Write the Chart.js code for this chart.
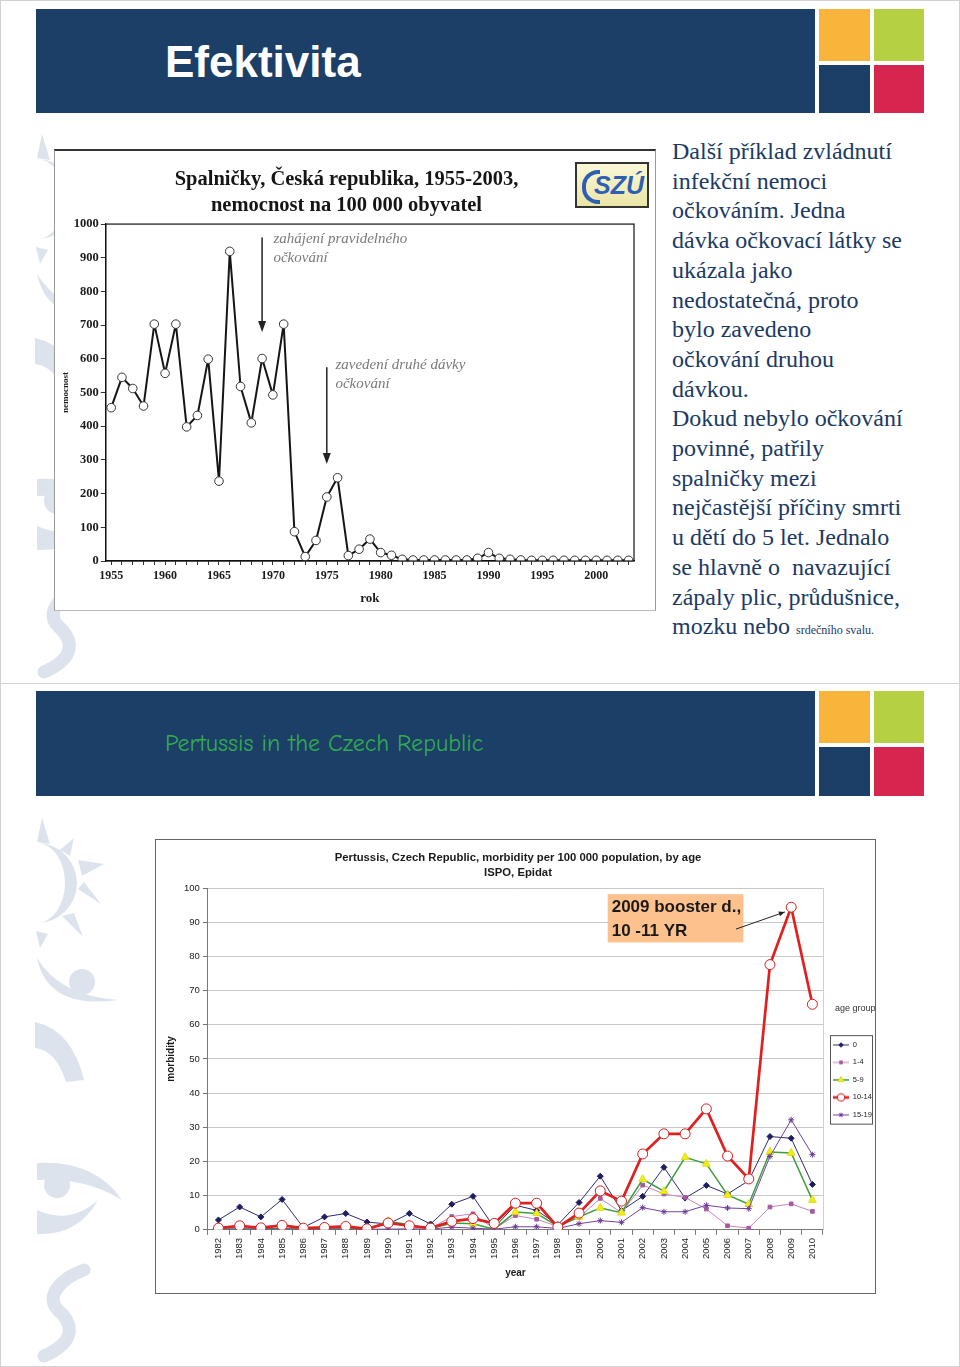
<!DOCTYPE html>
<html lang="cs">
<head>
<meta charset="utf-8">
<title>Efektivita</title>
<script src="https://cdn.jsdelivr.net/npm/chart.js@4.4.1/dist/chart.umd.min.js"></script>
<style>
  html, body { margin: 0; padding: 0; }
  body { width: 960px; height: 1367px; position: relative; background: #fff; overflow: hidden;
         font-family: "Liberation Sans", Arial, sans-serif; }
  .slide { position: absolute; left: 0; width: 958px; border: 1px solid #d2d2d2; background: #fff; }
  #s1 { top: 0; height: 682px; }
  #s2 { top: 683px; height: 682px; }
  #marks { position: absolute; left: 0; top: 0; }
  .band { position: absolute; left: 36px; width: 779px; background: #1b3f67; }
  .sq { position: absolute; }
  .orange { background: #f9b43c; }
  .green { background: #b6d043; }
  .blue { background: #1b3f67; }
  .red { background: #d6254f; }
  .h1 { position: absolute; left: 165px; color: #fff; font: bold 44px "Liberation Sans", Arial, sans-serif; line-height: 50px; }
  .h2 { position: absolute; left: 165px; color: #33aa50; font: 24px "Comic Sans MS", "Comic Neue", "Lato", sans-serif; line-height: 28px; }
  #measlesBox { position: absolute; left: 54px; top: 149px; width: 600px; height: 459px; background: #fff;
                border-top: 2px solid #333; border-left: 1px solid #999; border-right: 1px solid #999; border-bottom: 1px solid #bbb; }
  #logo { position: absolute; left: 575px; top: 162px; width: 70px; height: 42px; border: 2px solid #333;
          background: linear-gradient(#fbf8d8, #ebe5a6); overflow: hidden; }
  #logo span { position: absolute; right: 3px; top: 7px; font: italic bold 25px "Liberation Sans", Arial, sans-serif; color: #2f5fb3; }
  #logo i { position: absolute; left: 5px; top: 6px; width: 14px; height: 26px; border: 4px solid #2f5fb3; border-right: none;
            border-radius: 16px 0 0 16px; }
  #story { position: absolute; left: 672px; top: 137px; color: #1b3a64; font: 24px "Liberation Serif", "Times New Roman", serif;
           line-height: 29.7px; white-space: pre; }
  #story small { font-size: 12px; }
  #pertBox { position: absolute; left: 155px; top: 839px; width: 719px; height: 453px; background: #fff; border: 1px solid #666; }
  canvas { display: block; }
</style>
</head>
<body>
<div class="slide" id="s1"></div>
<div class="slide" id="s2"></div>

<svg id="marks" width="960" height="1367">
  <defs>
    <clipPath id="edge"><rect x="35" y="0" width="120" height="1367"/></clipPath>
    <g id="logoMark" fill="#dde3ed" stroke="none">
      <path d="M37 159 A40 40 0 0 1 37 239 A28 40 0 0 0 37 159 Z"/>
      <polygon points="42,134 50,160 37,158"/>
      <polygon points="74,154 60,166 70,172"/>
      <polygon points="104,180 78,176 82,192"/>
      <polygon points="101,220 78,205 84,198"/>
      <polygon points="83,253 62,232 74,229"/>
      <polygon points="40,264 36,247 48,250"/>
      <circle cx="82" cy="298" r="13"/>
      <path d="M37 274 Q48 326 118 316 Q60 312 37 274 Z"/>
      <path d="M35 338 Q72 346 84 396 L66 398 Q56 366 35 364 Z"/>
      <path d="M37 479 Q95 476 122 516 Q85 493 37 496 Z"/>
      <circle cx="57" cy="501" r="13"/>
      <path d="M37 526 Q70 541 98 516 Q78 552 37 550 Z"/>
      <path d="M84 586 C62 594 44 612 58 626 C74 640 76 658 44 672" fill="none" stroke="#dde3ed" stroke-width="13" stroke-linecap="round"/>
    </g>
  </defs>
  <g clip-path="url(#edge)">
    <use href="#logoMark" x="0" y="0"/>
    <use href="#logoMark" x="0" y="684"/>
  </g>
</svg>

<!-- slide 1 header -->
<div class="band" style="top:9px;height:104px"></div>
<div class="sq orange" style="left:819px;top:9px;width:51px;height:52px"></div>
<div class="sq green" style="left:874px;top:9px;width:50px;height:52px"></div>
<div class="sq blue" style="left:819px;top:65px;width:51px;height:48px"></div>
<div class="sq red" style="left:874px;top:65px;width:50px;height:48px"></div>
<div class="h1" style="top:37px">Efektivita</div>

<div id="measlesBox"><canvas id="measles" width="600" height="459"></canvas></div>
<div id="logo"><i></i><span>SZÚ</span></div>

<div id="story">Další příklad zvládnutí
infekční nemoci
očkováním. Jedna
dávka očkovací látky se
ukázala jako
nedostatečná, proto
bylo zavedeno
očkování druhou
dávkou.
Dokud nebylo očkování
povinné, patřily
spalničky mezi
nejčastější příčiny smrti
u dětí do 5 let. Jednalo
se hlavně o  navazující
zápaly plic, průdušnice,
mozku nebo <small>srdečního svalu.</small></div>

<!-- slide 2 header -->
<div class="band" style="top:691px;height:105px"></div>
<div class="sq orange" style="left:819px;top:691px;width:51px;height:52px"></div>
<div class="sq green" style="left:874px;top:691px;width:50px;height:52px"></div>
<div class="sq blue" style="left:819px;top:747px;width:51px;height:49px"></div>
<div class="sq red" style="left:874px;top:747px;width:50px;height:49px"></div>
<div class="h2" style="top:729px">Pertussis in the Czech Republic</div>

<div id="pertBox"><canvas id="pertussis" width="719" height="453"></canvas></div>

<script>
// measles, Czech Republic, per 100 000
const measlesYears = [1955, 1956, 1957, 1958, 1959, 1960, 1961, 1962, 1963, 1964,
  1965, 1966, 1967, 1968, 1969, 1970, 1971, 1972, 1973, 1974,
  1975, 1976, 1977, 1978, 1979, 1980, 1981, 1982, 1983, 1984,
  1985, 1986, 1987, 1988, 1989, 1990, 1991, 1992, 1993, 1994,
  1995, 1996, 1997, 1998, 1999, 2000, 2001, 2002, 2003];
const measlesRate = [455, 545, 512, 460, 703, 557, 703, 398, 432, 599,
  237, 919, 518, 410, 601, 493, 703, 87, 13, 61,
  190, 247, 16, 35, 65, 25, 17, 5, 3, 3,
  3, 3, 3, 3, 8, 25, 8, 5, 3, 2,
  2, 2, 2, 2, 2, 2, 2, 2, 2];

// pertussis morbidity per 100 000 by age group
const pertYears = ['1982', '1983', '1984', '1985', '1986', '1987', '1988', '1989', '1990', '1991',
  '1992', '1993', '1994', '1995', '1996', '1997', '1998', '1999', '2000', '2001',
  '2002', '2003', '2004', '2005', '2006', '2007', '2008', '2009', '2010'];
const ageGroups = ['0', '1-4', '5-9', '10-14', '15-19'];
const age0 = [2.9, 6.7, 3.8, 8.9, 0.7, 3.8, 4.8, 2.3, 1.7, 4.8,
  1.7, 7.5, 9.8, 0.7, 7.2, 5.7, 1.5, 8.0, 15.7, 5.6,
  9.8, 18.3, 9.3, 13.0, 10.5, 14.4, 27.3, 26.8, 13.3];
const age1to4 = [0.4, 0.8, 0.9, 1.5, 0.3, 0.5, 0.6, 0.2, 2.0, 1.0,
  0.4, 3.9, 4.7, 0.3, 4.2, 3.1, 1.0, 3.6, 9.2, 5.0,
  13.1, 10.5, 9.5, 6.1, 1.2, 0.5, 6.7, 7.6, 5.4];
const age5to9 = [0.2, 0.2, 0.3, 0.4, 0.1, 0.3, 0.1, 0.2, 2.5, 1.5,
  0.3, 2.0, 1.8, 0.2, 5.2, 4.8, 1.0, 3.8, 6.4, 5.0,
  14.8, 11.3, 21.2, 19.3, 10.2, 7.5, 22.8, 22.5, 8.7];
const age10to14 = [0.5, 1.2, 0.6, 1.3, 0.5, 0.7, 1.0, 0.3, 2.0, 1.2,
  0.5, 2.5, 3.3, 1.9, 7.8, 7.8, 0.8, 4.9, 11.4, 8.4,
  22.2, 28.1, 28.1, 35.4, 21.6, 14.9, 77.6, 94.4, 66.0];
const age15to19 = [0.2, 0.3, 0.2, 0.3, 0.2, 0.2, 0.3, 0.2, 0.2, 0.3,
  0.2, 0.8, 0.5, 0.2, 0.9, 0.9, 0.4, 1.8, 2.7, 2.2,
  6.5, 5.3, 5.3, 7.2, 6.4, 6.2, 21.5, 32.2, 22.0];

const serif = '"Liberation Serif", "Times New Roman", serif';
const sans = '"Liberation Sans", Arial, sans-serif';

// plot frame + arrows with the vaccination notes
const measlesNotes = {
  id: 'measlesNotes',
  afterDraw(chart, args, opts) {
    const { ctx, chartArea: a, scales: { x, y } } = chart;
    ctx.save();
    ctx.strokeStyle = '#111';
    ctx.lineWidth = 1.2;
    ctx.strokeRect(a.left, a.top, a.right - a.left, a.bottom - a.top);
    opts.notes.forEach(n => {
      const px = x.getPixelForValue(measlesYears.indexOf(n.year));
      const y0 = y.getPixelForValue(n.from);
      const y1 = y.getPixelForValue(n.to);
      ctx.strokeStyle = '#222';
      ctx.lineWidth = 1.5;
      ctx.beginPath();
      ctx.moveTo(px, y0);
      ctx.lineTo(px, y1 - 8);
      ctx.stroke();
      ctx.fillStyle = '#222';
      ctx.beginPath();
      ctx.moveTo(px - 4, y1 - 11);
      ctx.lineTo(px + 4, y1 - 11);
      ctx.lineTo(px, y1);
      ctx.closePath();
      ctx.fill();
      ctx.font = 'italic 15px ' + serif;
      ctx.fillStyle = '#7a7a7a';
      ctx.textBaseline = 'middle';
      const tx = x.getPixelForValue(n.textAt);
      const ty = y.getPixelForValue(n.textY);
      n.lines.forEach((t, i) => ctx.fillText(t, tx, ty + i * 19));
    });
    ctx.restore();
  }
};

new Chart(document.getElementById('measles'), {
  type: 'line',
  data: {
    labels: measlesYears,
    datasets: [{
      label: 'nemocnost',
      data: measlesRate,
      borderColor: '#151515',
      borderWidth: 2,
      borderJoinStyle: 'round',
      tension: 0,
      pointStyle: 'circle',
      pointRadius: 4.3,
      pointBackgroundColor: '#fff',
      pointBorderColor: '#333',
      pointBorderWidth: 1
    }]
  },
  options: {
    responsive: false,
    animation: false,
    devicePixelRatio: 1,
    layout: { padding: { left: 4, right: 21, bottom: 4 } },
    plugins: {
      legend: { display: false },
      tooltip: { enabled: false },
      title: {
        display: true,
        text: ['Spalničky, Česká republika, 1955-2003,', 'nemocnost na 100 000 obyvatel'],
        color: '#151515',
        font: { family: serif, size: 20.5, weight: 'bold', lineHeight: 1.27 },
        padding: { top: 16, bottom: 5 }
      },
      measlesNotes: {
        notes: [
          { year: 1969, from: 960, to: 680, textAt: 15.05, textY: 955, lines: ['zahájení pravidelného', 'očkování'] },
          { year: 1975, from: 575, to: 288, textAt: 20.8, textY: 583, lines: ['zavedení druhé dávky', 'očkování'] }
        ]
      }
    },
    scales: {
      x: {
        type: 'category',
        offset: true,
        border: { color: '#111', width: 1.2 },
        grid: { drawOnChartArea: false, offset: false, tickLength: 4, color: '#333' },
        ticks: {
          autoSkip: false, maxRotation: 0, minRotation: 0, padding: 4, color: '#1a1a1a',
          font: { family: serif, size: 12, weight: 'bold' },
          callback: (v, i) => (measlesYears[i] % 5 === 0 ? String(measlesYears[i]) : '')
        },
        title: { display: true, text: 'rok', color: '#1a1a1a', font: { family: serif, size: 13, weight: 'bold' }, padding: { top: 3, bottom: 0 } }
      },
      y: {
        min: 0, max: 1000,
        border: { color: '#111', width: 1.2 },
        grid: { drawOnChartArea: false, tickLength: 5, color: '#333' },
        ticks: { stepSize: 100, padding: 2, color: '#1a1a1a', font: { family: serif, size: 12.5, weight: 'bold' },
                 callback: v => String(v) },
        title: { display: true, text: 'nemocnost', color: '#1a1a1a', font: { family: serif, size: 9, weight: 'bold' }, padding: { top: 1, bottom: 1 } }
      }
    }
  },
  plugins: [measlesNotes]
});

// legend sample: short line with the marker in the middle
function legendIcon(ds) {
  const c = document.createElement('canvas');
  c.width = 16; c.height = 10;
  const g = c.getContext('2d');
  g.strokeStyle = ds.borderColor;
  g.lineWidth = ds.borderWidth;
  g.beginPath(); g.moveTo(0, 5); g.lineTo(16, 5); g.stroke();
  g.fillStyle = ds.pointBackgroundColor;
  g.strokeStyle = ds.pointBorderColor;
  g.lineWidth = ds.pointBorderWidth;
  Chart.helpers.drawPoint(g, { pointStyle: ds.pointStyle, radius: ds.pointRadius * 0.75, rotation: 0, borderWidth: ds.pointBorderWidth }, 8, 5);
  return c;
}

const pertNotes = {
  id: 'pertNotes',
  beforeDatasetsDraw(chart) {
    const { ctx, chartArea: a } = chart;
    ctx.save();
    ctx.strokeStyle = '#d0d0d0';
    ctx.lineWidth = 1;
    ctx.beginPath();
    ctx.moveTo(a.right + 0.5, a.top);
    ctx.lineTo(a.right + 0.5, a.bottom);
    ctx.stroke();
    ctx.restore();
  },
  afterDraw(chart, args, opts) {
    const { ctx, scales: { x, y } } = chart;
    ctx.save();
    // box round the legend entries, heading above it
    const hb = chart.legend.legendHitBoxes;
    if (hb && hb.length) {
      const l = Math.min(...hb.map(h => h.left)) - 3;
      const t = Math.min(...hb.map(h => h.top)) - 6;
      const b = Math.max(...hb.map(h => h.top + h.height)) + 5;
      const r = chart.width - 2;
      ctx.strokeStyle = '#555';
      ctx.lineWidth = 1;
      ctx.strokeRect(l + 0.5, t + 0.5, r - l - 1, b - t);
      ctx.fillStyle = '#333';
      ctx.font = '9px ' + sans;
      ctx.textBaseline = 'middle';
      ctx.fillText(opts.legendHeading, l + 5, t - 27);
    }
    // booster note
    const n = opts.note;
    const bx0 = x.getPixelForValue(n.x0), bx1 = x.getPixelForValue(n.x1);
    const by0 = y.getPixelForValue(n.y0), by1 = y.getPixelForValue(n.y1);
    ctx.fillStyle = '#fcc18c';
    ctx.fillRect(bx0, by0, bx1 - bx0, by1 - by0);
    ctx.fillStyle = '#1a1a1a';
    ctx.font = 'bold 17px ' + sans;
    ctx.textBaseline = 'middle';
    n.lines.forEach((t, i) => ctx.fillText(t, bx0 + 4, by0 + 13 + i * 24));
    const ax0 = x.getPixelForValue(n.arrow[0]), ay0 = y.getPixelForValue(n.arrow[1]);
    const ax1 = x.getPixelForValue(n.arrow[2]), ay1 = y.getPixelForValue(n.arrow[3]);
    ctx.strokeStyle = '#222';
    ctx.lineWidth = 1;
    ctx.beginPath(); ctx.moveTo(ax0, ay0); ctx.lineTo(ax1, ay1); ctx.stroke();
    const ang = Math.atan2(ay1 - ay0, ax1 - ax0);
    ctx.fillStyle = '#222';
    ctx.beginPath();
    ctx.moveTo(ax1, ay1);
    ctx.lineTo(ax1 - 6 * Math.cos(ang) + 2.5 * Math.sin(ang), ay1 - 6 * Math.sin(ang) - 2.5 * Math.cos(ang));
    ctx.lineTo(ax1 - 6 * Math.cos(ang) - 2.5 * Math.sin(ang), ay1 - 6 * Math.sin(ang) + 2.5 * Math.cos(ang));
    ctx.closePath();
    ctx.fill();
    ctx.restore();
  }
};

const pertDatasets = [
  { label: ageGroups[0], data: age0, borderColor: '#2d2c6e', borderWidth: 1, pointStyle: 'rectRot', pointRadius: 3,
    pointBackgroundColor: '#1f1e5e', pointBorderColor: '#1f1e5e', pointBorderWidth: 1, order: 4 },
  { label: ageGroups[1], data: age1to4, borderColor: '#c584bd', borderWidth: 1, pointStyle: 'rect', pointRadius: 2.6,
    pointBackgroundColor: '#a65aa0', pointBorderColor: '#a65aa0', pointBorderWidth: 1, order: 3 },
  { label: ageGroups[2], data: age5to9, borderColor: '#3f9e3f', borderWidth: 1.5, pointStyle: 'triangle', pointRadius: 4.5,
    pointBackgroundColor: '#f0ec18', pointBorderColor: '#e4dc10', pointBorderWidth: 1, order: 2 },
  { label: ageGroups[3], data: age10to14, borderColor: '#e21f1f', borderWidth: 2.7, pointStyle: 'circle', pointRadius: 5,
    pointBackgroundColor: '#fff', pointBorderColor: '#d91c1c', pointBorderWidth: 1, order: 0 },
  { label: ageGroups[4], data: age15to19, borderColor: '#7442a2', borderWidth: 1, pointStyle: 'star', pointRadius: 3,
    pointBackgroundColor: '#6a3a98', pointBorderColor: '#6a3a98', pointBorderWidth: 1, order: 1 }
];

new Chart(document.getElementById('pertussis'), {
  type: 'line',
  data: { labels: pertYears, datasets: pertDatasets },
  options: {
    responsive: false,
    animation: false,
    devicePixelRatio: 1,
    layout: { padding: { left: 5, right: 0, bottom: 14 } },
    elements: { line: { tension: 0 } },
    plugins: {
      tooltip: { enabled: false },
      title: {
        display: true,
        text: ['Pertussis, Czech Republic, morbidity per 100 000 population, by age', 'ISPO, Epidat'],
        color: '#1a1a1a',
        font: { family: sans, size: 11.3, weight: 'bold', lineHeight: 1.33 },
        padding: { top: 10, bottom: 8 }
      },
      legend: {
        position: 'right',
        align: 'center',
        maxWidth: 52,
        title: { display: true, text: ' ', color: 'rgba(0,0,0,0)', font: { family: sans, size: 9 }, padding: { top: 0, bottom: 30 } },
        labels: {
          usePointStyle: true,
          pointStyleWidth: 16,
          padding: 10,
          color: '#222',
          font: { family: sans, size: 7.5 },
          generateLabels: chart => chart.data.datasets.map((ds, i) => ({
            text: ds.label, pointStyle: legendIcon(ds), fillStyle: 'rgba(0,0,0,0)', strokeStyle: 'rgba(0,0,0,0)',
            lineWidth: 0, hidden: false, datasetIndex: i, fontColor: '#222'
          }))
        }
      },
      pertNotes: {
        legendHeading: 'age group',
        note: { x0: 18.35, x1: 24.75, y0: 98.2, y1: 84.1, lines: ['2009 booster d.,', '10 -11 YR'], arrow: [24.4, 88, 26.7, 93] }
      }
    },
    scales: {
      x: {
        type: 'category',
        offset: true,
        border: { color: '#7a7a7a', width: 1 },
        grid: { drawOnChartArea: false, offset: true, tickLength: 5, tickColor: '#7a7a7a' },
        ticks: { autoSkip: false, maxRotation: 90, minRotation: 90, padding: 3, color: '#222', font: { family: sans, size: 9.5 } },
        title: { display: true, text: 'year', color: '#1a1a1a', font: { family: sans, size: 10, weight: 'bold' }, padding: { top: 5, bottom: 0 } }
      },
      y: {
        min: 0, max: 100,
        border: { color: '#7a7a7a', width: 1 },
        grid: { color: '#c8c8c8', lineWidth: 1, tickLength: 5, tickColor: '#7a7a7a' },
        ticks: { stepSize: 10, padding: 3, color: '#222', font: { family: sans, size: 9.5 } },
        title: { display: true, text: 'morbidity', color: '#1a1a1a', font: { family: sans, size: 10, weight: 'bold' }, padding: { top: 4, bottom: 4 } }
      }
    }
  },
  plugins: [pertNotes]
});
</script>
</body>
</html>
